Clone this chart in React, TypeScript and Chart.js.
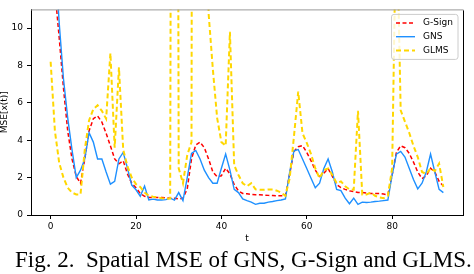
import React, { useEffect, useRef } from 'react';
import { Chart, registerables } from 'chart.js';

Chart.register(...registerables);

// time index t
const timeSteps = [
  0, 1, 2, 3, 4, 5, 6, 7, 8, 9, 10, 11, 12, 13, 14, 15, 16, 17, 18, 19,
  20, 21, 22, 23, 24, 25, 26, 27, 28, 29, 30, 31, 32, 33, 34, 35, 36, 37, 38, 39,
  40, 41, 42, 43, 44, 45, 46, 47, 48, 49, 50, 51, 52, 53, 54, 55, 56, 57, 58, 59,
  60, 61, 62, 63, 64, 65, 66, 67, 68, 69, 70, 71, 72, 73, 74, 75, 76, 77, 78, 79,
  80, 81, 82, 83, 84, 85, 86, 87, 88, 89, 90, 91, 92,
];

const seriesNames = ['G-Sign', 'GNS', 'GLMS'];

const gSignMse = [
  20, 12, 9.5, 6.8, 4.5, 3.0, 2.06, 1.7, 3.0, 4.5,
  5.15, 5.3, 4.97, 4.37, 3.7, 3.0, 2.74, 2.9, 2.2, 1.7,
  1.46, 1.15, 1.0, 0.94, 0.94, 0.94, 0.94, 0.92, 0.9, 0.9,
  0.86, 0.9, 1.4, 3.0, 3.75, 3.9, 3.6, 3.0, 2.3, 2.05,
  2.1, 2.5, 2.2, 1.63, 1.29, 1.15, 1.14, 1.1, 1.08, 1.08,
  1.06, 1.05, 1.04, 1.03, 1.03, 1.02, 2.2, 3.4, 3.65, 3.72,
  3.35, 2.9, 2.4, 2.06, 2.23, 2.49, 2.06, 1.63, 1.46, 1.37,
  1.29, 1.25, 1.2, 1.2, 1.18, 1.15, 1.15, 1.15, 1.12, 1.08,
  2.14, 3.35, 3.7, 3.6, 3.3, 2.83, 2.3, 1.95, 2.1, 2.5,
  2.3, 1.8, 1.55,
];

const gnsMse = [
  22, 14, 10.3, 7.3, 5.2, 3.5, 2.0, 2.4, 3.0, 4.4,
  3.9, 3.0, 3.0, 2.3, 1.65, 1.8, 3.0, 3.35, 2.5, 1.6,
  1.35, 1.0, 1.55, 0.8, 0.85, 0.8, 0.8, 0.82, 0.9, 0.8,
  1.2, 0.77, 2.0, 3.3, 3.45, 3.0, 2.4, 2.0, 1.7, 1.7,
  2.5, 3.26, 2.4, 1.37, 1.2, 0.86, 0.77, 0.69, 0.57, 0.63,
  0.63, 0.69, 0.72, 0.77, 0.8, 0.86, 2.3, 3.43, 3.5, 3.0,
  2.49, 1.97, 1.46, 1.7, 2.49, 3.0, 2.3, 1.37, 1.3, 0.9,
  0.6, 0.9, 0.57, 0.69, 0.67, 0.69, 0.72, 0.74, 0.77, 0.8,
  2.14, 3.26, 3.4, 3.1, 2.5, 1.9, 1.4, 1.7, 2.3, 3.26,
  2.3, 1.37, 1.2,
];

const glmsMse = [
  8.2, 4.5, 2.8, 2.0, 1.46, 1.2, 1.1, 1.1, 3.5, 5.06,
  5.66, 5.87, 5.57, 5.15, 8.66, 3.6, 7.9, 3.5, 2.6, 2.0,
  1.65, 1.5, 1.2, 1.03, 0.98, 0.95, 0.9, 0.86, 0.88, 102,
  2.5, 1.7, 3.2, 3.9, 150, 100, 60, 10.8, 7.8, 5.2,
  3.9, 3.7, 9.8, 2.66, 2.14, 1.7, 1.54, 1.7, 1.37, 1.35,
  1.35, 1.37, 1.37, 1.3, 1.2, 1.03, 1.97, 4.2, 6.6, 4.37,
  3.86, 3.26, 2.49, 1.97, 2.4, 2.49, 2.14, 1.7, 1.8, 1.54,
  1.37, 1.35, 5.57, 1.1, 1.1, 1.2, 1.03, 0.94, 0.9, 1.03,
  2.5, 17, 5.6, 5.0, 4.4, 3.7, 3.1, 2.3, 2.2, 2.5,
  2.35, 2.75, 1.5,
];

const xTickValues = [0, 20, 40, 60, 80];
const yTickValues = [0, 2, 4, 6, 8, 10];

const RED = '#ff0000';
const BLUE = '#1e90ff';
const GOLD = '#ffd700';
const TICK_FONT = { family: 'DejaVu Sans', size: 9, lineHeight: 1.2 };

const styles = [
  { color: RED, width: 1.5, dash: [4, 2.5] },
  { color: BLUE, width: 1.4, dash: [] as number[] },
  { color: GOLD, width: 2, dash: [5, 3] },
];

const framePlugin = {
  id: 'frameAndLegend',
  afterDraw(chart: any) {
    const ctx = chart.ctx as CanvasRenderingContext2D;
    const a = chart.chartArea;
    ctx.save();
    // top and right spines
    ctx.lineWidth = 1;
    ctx.strokeStyle = '#999';
    ctx.beginPath();
    ctx.moveTo(a.left, a.top + 0.5);
    ctx.lineTo(a.right + 0.5, a.top + 0.5);
    ctx.stroke();
    ctx.strokeStyle = '#000';
    ctx.beginPath();
    ctx.moveTo(a.right + 0.5, a.top + 1);
    ctx.lineTo(a.right + 0.5, a.bottom);
    ctx.stroke();

    // legend box
    const bx = a.right - 71.5;
    const by = a.top + 5;
    const bw = 66.5;
    const bh = 45;
    const r = 2.5;
    ctx.beginPath();
    ctx.moveTo(bx + r, by);
    ctx.lineTo(bx + bw - r, by);
    ctx.quadraticCurveTo(bx + bw, by, bx + bw, by + r);
    ctx.lineTo(bx + bw, by + bh - r);
    ctx.quadraticCurveTo(bx + bw, by + bh, bx + bw - r, by + bh);
    ctx.lineTo(bx + r, by + bh);
    ctx.quadraticCurveTo(bx, by + bh, bx, by + bh - r);
    ctx.lineTo(bx, by + r);
    ctx.quadraticCurveTo(bx, by, bx + r, by);
    ctx.closePath();
    ctx.fillStyle = 'rgba(255,255,255,0.8)';
    ctx.fill();
    ctx.strokeStyle = '#cccccc';
    ctx.lineWidth = 1;
    ctx.stroke();

    ctx.font = '9px "DejaVu Sans"';
    ctx.textBaseline = 'middle';
    ctx.textAlign = 'left';
    seriesNames.forEach((name, i) => {
      const y = by + 8.5 + i * 13.8;
      const s = styles[i];
      ctx.beginPath();
      ctx.setLineDash(s.dash);
      ctx.strokeStyle = s.color;
      ctx.lineWidth = s.width;
      ctx.moveTo(bx + 4.5, y);
      ctx.lineTo(bx + 23.5, y);
      ctx.stroke();
      ctx.setLineDash([]);
      ctx.fillStyle = '#000';
      ctx.fillText(name, bx + 31.5, y);
    });
    ctx.restore();
  },
};

export default function App() {
  const canvasRef = useRef<HTMLCanvasElement | null>(null);

  useEffect(() => {
    const canvas = canvasRef.current;
    if (!canvas) return;
    const series = [gSignMse, gnsMse, glmsMse];
    const orders = [2, 1, 0];
    const chart = new Chart(canvas, {
      type: 'line',
      data: {
        datasets: series.map((vals, i) => ({
          label: seriesNames[i],
          data: timeSteps.map((t, k) => ({ x: t, y: vals[k] })),
          borderColor: styles[i].color,
          backgroundColor: styles[i].color,
          borderWidth: styles[i].width,
          borderDash: styles[i].dash,
          pointRadius: 0,
          tension: 0,
          fill: false,
          order: orders[i],
        })),
      },
      options: {
        animation: false,
        responsive: false,
        maintainAspectRatio: false,
        devicePixelRatio: 1,
        plugins: { legend: { display: false }, tooltip: { enabled: false } },
        layout: { padding: { left: 0, right: 11, top: 1, bottom: 29 } },
        scales: {
          x: {
            type: 'linear',
            min: -4.6,
            max: 96.6,
            afterBuildTicks: (axis: any) => {
              axis.ticks = xTickValues.map((v) => ({ value: v }));
            },
            afterFit: (axis: any) => {
              axis.height = 30;
            },
            grid: { display: true, drawOnChartArea: false, drawTicks: true, tickLength: 4, color: '#000', tickColor: '#000' },
            border: { display: true, color: '#000', width: 1 },
            ticks: { font: TICK_FONT, color: '#000', padding: 2, maxRotation: 0 },
            title: {
              display: true,
              text: 't',
              color: '#000',
              font: { family: 'DejaVu Sans', size: 9, lineHeight: 1 },
              padding: { top: 0, bottom: 1.5 },
            },
          },
          y: {
            type: 'linear',
            min: 0,
            max: 11,
            afterBuildTicks: (axis: any) => {
              axis.ticks = yTickValues.map((v) => ({ value: v }));
            },
            afterFit: (axis: any) => {
              axis.width = 31;
            },
            grid: { display: true, drawOnChartArea: false, drawTicks: true, tickLength: 4, color: '#000', tickColor: '#000' },
            border: { display: true, color: '#000', width: 1 },
            ticks: { font: TICK_FONT, color: '#000', padding: 4 },
            title: {
              display: true,
              text: 'MSE[x(t)]',
              color: '#000',
              font: { family: 'DejaVu Sans', size: 9, lineHeight: 1 },
              padding: { top: 0, bottom: 0 },
            },
          },
        },
      },
      plugins: [framePlugin],
    } as any);
    return () => chart.destroy();
  }, []);

  return (
    <div
      style={{
        position: 'absolute',
        left: 0,
        top: 0,
        width: 474,
        height: 274,
        background: '#fff',
        overflow: 'hidden',
      }}
    >
      <canvas ref={canvasRef} width={474} height={274} style={{ display: 'block', width: 474, height: 274 }} />
      <div
        style={{
          position: 'absolute',
          left: 15,
          top: 247.5,
          fontFamily: '"Liberation Serif", "Times New Roman", serif',
          fontSize: 23,
          lineHeight: '23px',
          whiteSpace: 'pre',
          color: '#000',
        }}
      >
        {'Fig. 2.  Spatial MSE of GNS, G-Sign and GLMS.'}
      </div>
    </div>
  );
}
